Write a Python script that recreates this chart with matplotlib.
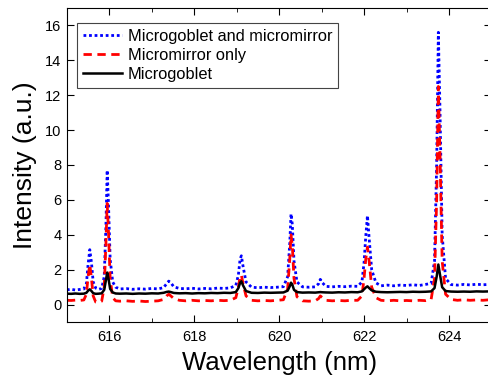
import matplotlib
matplotlib.use("Agg")
import matplotlib.pyplot as plt
import numpy as np
from matplotlib.ticker import MultipleLocator

plt.rcParams['font.family'] = ['Liberation Sans', 'DejaVu Sans']

# wavelength grid (nm), rows of 10
wavelength = [
    615.00, 615.10, 615.20, 615.30, 615.40, 615.46, 615.50, 615.54, 615.58, 615.62,
    615.68, 615.75, 615.82, 615.88, 615.92, 615.95, 615.98, 616.02, 616.08, 616.15,
    616.25, 616.40, 616.55, 616.70, 616.85, 617.00, 617.15, 617.28, 617.35, 617.40,
    617.45, 617.52, 617.65, 617.80, 617.95, 618.10, 618.25, 618.40, 618.55, 618.70,
    618.85, 618.98, 619.04, 619.08, 619.11, 619.15, 619.22, 619.35, 619.50, 619.65,
    619.80, 619.95, 620.10, 620.20, 620.25, 620.28, 620.31, 620.35, 620.42, 620.55,
    620.70, 620.85, 620.93, 620.97, 621.02, 621.10, 621.25, 621.40, 621.55, 621.70,
    621.85, 621.95, 622.00, 622.04, 622.08, 622.12, 622.18, 622.28, 622.40, 622.55,
    622.70, 622.85, 623.00, 623.15, 623.30, 623.45, 623.58, 623.66, 623.71, 623.75,
    623.79, 623.84, 623.92, 624.05, 624.20, 624.35, 624.50, 624.65, 624.80, 624.95,
]

goblet_mirror = [
    0.85, 0.88, 0.84, 0.87, 0.90, 1.20, 2.30, 3.15, 2.40, 1.30,
    0.95, 0.88, 0.93, 1.60, 4.50, 7.70, 5.80, 2.60, 1.30, 1.00,
    0.90, 0.92, 0.88, 0.91, 0.89, 0.93, 0.90, 0.98, 1.20, 1.35,
    1.25, 1.02, 0.93, 0.91, 0.94, 0.90, 0.93, 0.91, 0.95, 0.93,
    0.96, 1.10, 1.70, 2.60, 2.80, 2.20, 1.30, 1.00, 0.97, 1.00,
    0.98, 1.00, 1.03, 1.60, 3.50, 5.20, 4.60, 2.50, 1.30, 1.02,
    1.00, 1.02, 1.20, 1.45, 1.25, 1.05, 1.02, 1.05, 1.03, 1.06,
    1.05, 1.30, 2.40, 3.90, 5.10, 3.80, 2.00, 1.25, 1.08, 1.12,
    1.08, 1.12, 1.10, 1.14, 1.10, 1.16, 1.22, 2.50, 8.00, 15.60,
    11.0, 4.00, 1.50, 1.15, 1.12, 1.16, 1.13, 1.17, 1.14, 1.16,
]

mirror_only = [
    0.25, 0.24, 0.26, 0.24, 0.27, 0.60, 1.60, 2.30, 1.50, 0.50,
    0.15, 0.12, 0.20, 1.00, 3.50, 5.80, 4.20, 1.50, 0.40, 0.22,
    0.20, 0.22, 0.19, 0.21, 0.18, 0.20, 0.22, 0.30, 0.50, 0.60,
    0.50, 0.35, 0.25, 0.22, 0.25, 0.22, 0.24, 0.22, 0.25, 0.23,
    0.25, 0.40, 1.00, 1.60, 1.70, 1.20, 0.50, 0.25, 0.22, 0.24,
    0.22, 0.25, 0.28, 0.90, 2.60, 4.00, 3.40, 1.50, 0.45, 0.22,
    0.20, 0.22, 0.35, 0.50, 0.40, 0.25, 0.22, 0.24, 0.22, 0.25,
    0.25, 0.50, 1.50, 2.60, 3.30, 2.50, 1.00, 0.40, 0.25, 0.22,
    0.25, 0.22, 0.24, 0.22, 0.25, 0.23, 0.30, 1.50, 6.00, 12.5,
    8.50, 2.50, 0.60, 0.30, 0.25, 0.28, 0.25, 0.27, 0.25, 0.28,
]

goblet_only = [
    0.63, 0.62, 0.64, 0.62, 0.63, 0.68, 0.80, 0.88, 0.78, 0.66,
    0.62, 0.63, 0.65, 0.85, 1.40, 1.84, 1.50, 0.90, 0.70, 0.64,
    0.63, 0.64, 0.62, 0.64, 0.63, 0.65, 0.64, 0.68, 0.73, 0.75,
    0.72, 0.67, 0.65, 0.66, 0.64, 0.66, 0.65, 0.67, 0.66, 0.68,
    0.67, 0.72, 0.95, 1.25, 1.34, 1.10, 0.78, 0.68, 0.67, 0.69,
    0.68, 0.69, 0.70, 0.80, 1.05, 1.26, 1.15, 0.85, 0.72, 0.69,
    0.70, 0.69, 0.71, 0.72, 0.71, 0.70, 0.69, 0.71, 0.70, 0.72,
    0.71, 0.76, 0.88, 0.98, 1.05, 0.95, 0.82, 0.74, 0.72, 0.71,
    0.72, 0.73, 0.72, 0.74, 0.73, 0.74, 0.76, 0.95, 1.60, 2.30,
    1.70, 1.00, 0.78, 0.75, 0.74, 0.75, 0.74, 0.76, 0.75, 0.76,
]

labels = ['Microgoblet and micromirror', 'Micromirror only', 'Microgoblet']

fig = plt.figure(figsize=(4.88, 3.75), dpi=100)
ax = fig.add_axes([0.137, 0.141, 0.870, 0.838])

ax.plot(wavelength, goblet_mirror, color='#0000ff', ls=(0, (1, 1)), lw=2, label=labels[0])
ax.plot(wavelength, mirror_only, color='#ff0000', ls=(0, (3, 2)), lw=2, label=labels[1])
ax.plot(wavelength, goblet_only, color='black', ls='-', lw=1.8, label=labels[2])

ax.set_xlim(615, 625)
ax.set_ylim(-1, 17)
ax.xaxis.set_major_locator(MultipleLocator(2))
ax.xaxis.set_minor_locator(MultipleLocator(1))
ax.yaxis.set_major_locator(MultipleLocator(2))
ax.tick_params(which='both', direction='in', top=True, right=True, labelsize=10.5)
ax.tick_params(axis='x', pad=6)
ax.tick_params(axis='y', pad=4)
ax.tick_params(which='major', length=5)
ax.tick_params(which='minor', length=3)

ax.set_xlabel('Wavelength (nm)', fontsize=18.5, labelpad=4.5)
ax.set_ylabel('Intensity (a.u.)', fontsize=19, labelpad=6)

leg = ax.legend(loc='upper left', bbox_to_anchor=(0.024, 0.952), borderaxespad=0,
                fontsize=11.8, handlelength=2.4, handletextpad=0.35, labelspacing=0.25,
                borderpad=0.36, fancybox=False, framealpha=1)
leg.get_frame().set_edgecolor('#444444')
leg.get_frame().set_linewidth(0.8)

fig.savefig('out.png', dpi=100)
